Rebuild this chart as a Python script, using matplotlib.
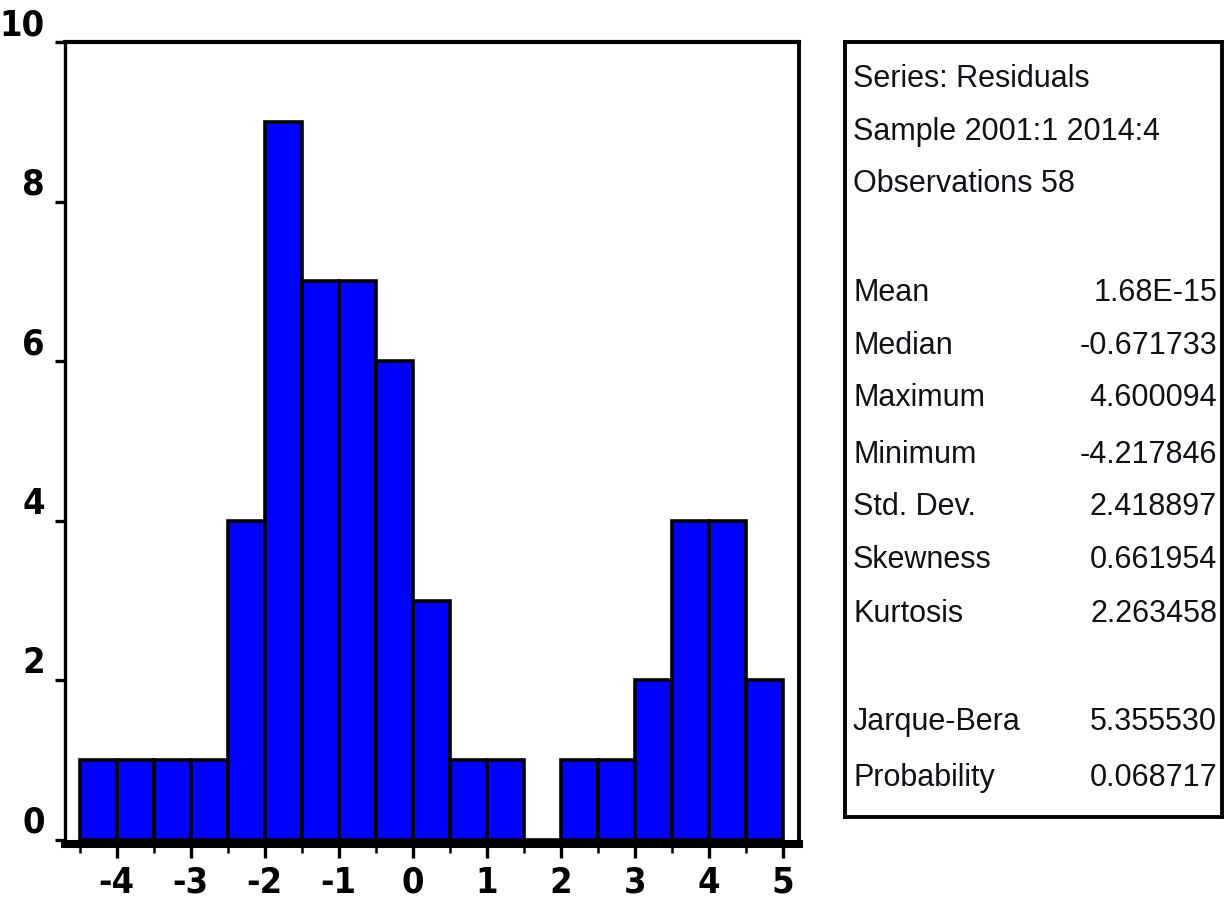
import matplotlib
matplotlib.use("Agg")
import matplotlib.pyplot as plt
from matplotlib import font_manager as fm
from matplotlib.ticker import FixedLocator

# Histogram of residuals: lower bin edges and counts per 0.5-wide bin
bin_lower = [-4.5, -4.0, -3.5, -3.0, -2.5, -2.0, -1.5, -1.0, -0.5, 0.0,
             0.5, 1.0, 1.5, 2.0, 2.5, 3.0, 3.5, 4.0, 4.5]
counts = [1, 1, 1, 1, 4, 9, 7, 7, 6, 3, 1, 1, 0, 1, 1, 2, 4, 4, 2]
bin_width = 0.5

x_ticks = [-4, -3, -2, -1, 0, 1, 2, 3, 4, 5]
x_tick_labels = ["-4", "-3", "-2", "-1", "0", "1", "2", "3", "4", "5"]
y_ticks = [0, 2, 4, 6, 8, 10]
y_tick_labels = ["0", "2", "4", "6", "8", "10"]

# Summary statistics panel
header_lines = ["Series: Residuals", "Sample 2001:1 2014:4", "Observations 58"]
stat_names = ["Mean", "Median", "Maximum", "Minimum", "Std. Dev.",
              "Skewness", "Kurtosis", "Jarque-Bera", "Probability"]
stat_values = ["1.68E-15", "-0.671733", "4.600094", "-4.217846", "2.418897",
               "0.661954", "2.263458", "5.355530", "0.068717"]

fonts = fm.fontManager.ttflist
names = {f.name for f in fonts}
has_condensed = any(f.name == "DejaVu Sans" and f.stretch == "condensed" for f in fonts)
if "Liberation Sans Narrow" in names:
    tick_font = dict(family="Liberation Sans Narrow", stretch="normal")
    tick_size = 30
elif has_condensed:
    tick_font = dict(family="DejaVu Sans", stretch="condensed")
    tick_size = 26
else:
    tick_font = dict(family="Liberation Sans", stretch="normal")
    tick_size = 26
body_family = "Liberation Sans Narrow" if "Liberation Sans Narrow" in names else "Liberation Sans"
body_size = 26 if body_family == "Liberation Sans Narrow" else 22

W, H = 1225, 906
fig = plt.figure(figsize=(W / 100, H / 100), dpi=100)
fig.patch.set_facecolor("white")

def fx(px):
    return px / W

def fy(py):
    return 1 - py / H

# Histogram frame
ax = fig.add_axes([fx(65), fy(843.5), fx(799) - fx(65), fy(42) - fy(843.5)])
ax.bar(bin_lower, counts, width=bin_width, align="edge",
       color="#0000ff", edgecolor="black", linewidth=2.6, zorder=2)

ax.set_xlim(-4.70, 5.22)
ax.set_ylim(-0.044, 10)

for side, lw in (("left", 2.4), ("top", 3.0), ("right", 2.8), ("bottom", 5.8)):
    ax.spines[side].set_linewidth(lw)
    ax.spines[side].set_color("black")

ax.xaxis.set_major_locator(FixedLocator(x_ticks))
ax.xaxis.set_minor_locator(FixedLocator([b for b in bin_lower if b not in x_ticks]))
ax.set_xticklabels(x_tick_labels)
ax.set_yticks(y_ticks)
ax.set_yticklabels(y_tick_labels, va="bottom")

ax.tick_params(axis="x", which="major", direction="out", length=10, width=2.4,
               pad=6, labelsize=tick_size)
ax.tick_params(axis="x", which="minor", direction="out", length=6.5, width=1.8)
ax.tick_params(axis="y", which="major", direction="out", length=7.5, width=2.4,
               pad=7, labelsize=tick_size)
for lab in ax.get_xticklabels() + ax.get_yticklabels():
    lab.set_fontfamily(tick_font["family"])
    lab.set_fontstretch(tick_font["stretch"])
    lab.set_fontweight("bold")
for lab in ax.get_yticklabels():
    lab.set_verticalalignment("bottom")

# Statistics box
box = fig.add_axes([fx(845), fy(817), fx(1222) - fx(845), fy(42) - fy(817)])
box.set_xticks([])
box.set_yticks([])
for s in box.spines.values():
    s.set_linewidth(2.8)
    s.set_color("black")

text_kw = dict(fontsize=body_size, family=body_family, color="#101018", va="center")
header_y = [79, 132, 184]
for line, py in zip(header_lines, header_y):
    fig.text(fx(853), fy(py), line, ha="left", **text_kw)

stat_y = [293, 346, 398, 455, 507, 560, 614, 722, 778]
for name, val, py in zip(stat_names, stat_values, stat_y):
    fig.text(fx(853), fy(py), name, ha="left", **text_kw)
    fig.text(fx(1217), fy(py), val, ha="right", **text_kw)

fig.savefig("out.png", dpi=100, facecolor="white")
